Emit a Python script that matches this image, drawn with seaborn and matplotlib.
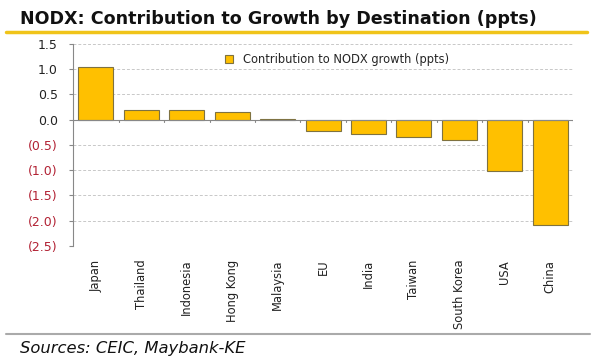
import matplotlib
matplotlib.use("Agg")
import matplotlib.pyplot as plt
import seaborn as sns
import pandas as pd
from matplotlib.lines import Line2D

categories = ["Japan", "Thailand", "Indonesia", "Hong Kong", "Malaysia", "EU",
              "India", "Taiwan", "South Korea", "USA", "China"]
values = [1.05, 0.19, 0.19, 0.15, 0.015, -0.23, -0.29, -0.35, -0.41, -1.02, -2.09]
y_ticks = [1.5, 1.0, 0.5, 0.0, -0.5, -1.0, -1.5, -2.0, -2.5]
series_name = "Contribution to NODX growth (ppts)"
title = "NODX: Contribution to Growth by Destination (ppts)"
source = "Sources: CEIC, Maybank-KE"

sns.set_theme(style="white")
plt.rcParams['font.family'] = ['DejaVu Sans']

df = pd.DataFrame({"dest": categories, "val": values})

fig = plt.figure(figsize=(6, 3.6), dpi=100)
ax = fig.add_axes([0.122, 0.317, 0.833, 0.561])

sns.barplot(data=df, x="dest", y="val", color="#FFC000", saturation=1,
            edgecolor="#7F7240", linewidth=0.8, width=0.77, ax=ax, zorder=3)

ax.set_ylim(-2.5, 1.5)
ax.set_xlim(-0.5, len(categories) - 0.5)
ax.set_yticks(y_ticks)
labels = []
for t in y_ticks:
    labels.append(f"{t:.1f}" if t >= 0 else f"({abs(t):.1f})")
ax.set_yticklabels(labels, fontsize=9)
for lab, t in zip(ax.get_yticklabels(), y_ticks):
    lab.set_color("#222222" if t >= 0 else "#B22234")

ax.yaxis.grid(True, linestyle=(0, (3, 2)), color="#C8C8C8", linewidth=0.7, zorder=0)
ax.set_xlabel("")
ax.set_ylabel("")
for s in ["top", "right", "bottom"]:
    ax.spines[s].set_visible(False)
ax.spines["left"].set_color("#888888")
ax.spines["left"].set_linewidth(0.8)
ax.tick_params(axis="y", left=True, length=3, color="#888888", width=0.8, pad=8)
ax.tick_params(axis="x", bottom=False, pad=4)
ax.set_xticks(range(len(categories)))
ax.set_xticklabels(categories, rotation=90, fontsize=8.3, color="#222222")

# zero line with category boundary ticks
ax.axhline(0, color="#888888", linewidth=0.8, zorder=4)
for b in range(len(categories) + 1):
    ax.plot([b - 0.5, b - 0.5], [0, -0.05], color="#888888", linewidth=0.8, zorder=4)

handle = Line2D([], [], marker="s", linestyle="", markersize=6,
                markerfacecolor="#FFC000", markeredgecolor="#7F7240", markeredgewidth=0.8)
ax.legend([handle], [series_name], loc="upper center", bbox_to_anchor=(0.52, 0.99),
          frameon=False, fontsize=8.3, handletextpad=0.2, borderaxespad=0.2)

fig.text(0.033, 0.948, title, fontsize=12.6, fontweight="bold", color="#111111", va="center")
fig.add_artist(Line2D([0.01, 0.978], [0.91, 0.91], color="#F0C419", linewidth=2.5))
fig.add_artist(Line2D([0.01, 0.983], [0.072, 0.072], color="#AAAAAA", linewidth=1.5))
fig.text(0.033, 0.033, source, fontsize=11.8, style="italic", color="#111111", va="center")

fig.savefig("out.png", dpi=100, facecolor="white")
